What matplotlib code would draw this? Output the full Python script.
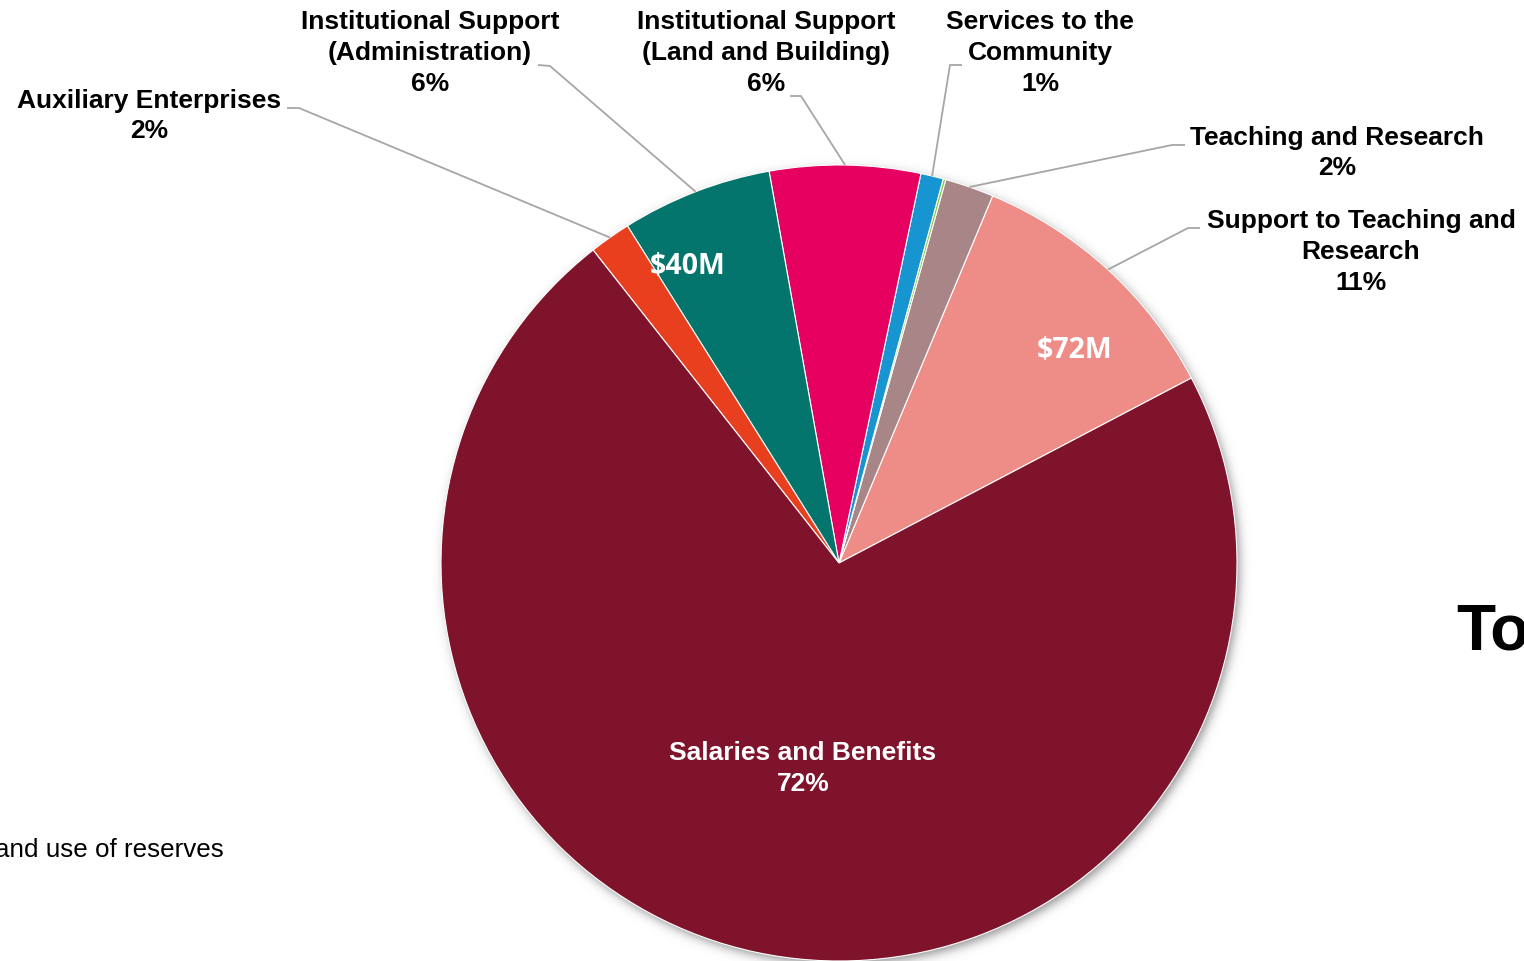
import numpy as np
import matplotlib
matplotlib.use("Agg")
import matplotlib.pyplot as plt

# Expense categories, counter-clockwise from the Salaries / Support boundary
categories = [
    "Support to Teaching and\nResearch",
    "Teaching and Research",
    "Other",
    "Services to the\nCommunity",
    "Institutional Support\n(Land and Building)",
    "Institutional Support\n(Administration)",
    "Auxiliary Enterprises",
    "Salaries and Benefits",
]
# Amounts in millions of dollars
amounts_musd = [72, 13, 0.7, 6, 40, 40, 11, 472]
# Categories that also carry a dollar amount inside their wedge
dollar_labelled = [
    "Institutional Support\n(Administration)",
    "Support to Teaching and\nResearch",
]
unlabelled = ["Other"]

colors = ["#EE8C87", "#A88586", "#8DC63F", "#1795D1",
          "#E6005F", "#04756C", "#E8401F", "#7F132B"]

W, H = 1524, 961
fig = plt.figure(figsize=(W / 100, H / 100), dpi=100)
ax = fig.add_axes([0, 0, 1, 1])
ax.set_xlim(0, W)
ax.set_ylim(0, H)
ax.set_aspect("equal")
ax.axis("off")


def py(y):
    """Convert a top-down pixel row to the axes' y coordinate."""
    return H - y


cx, cy, R = 839, py(563), 398

# Soft drop shadow under the pie
sx0, sx1, sy0, sy1 = cx - R - 30, cx + R + 30, cy - R - 30, cy + R + 30
gx, gy = np.meshgrid(np.linspace(sx0, sx1, 900), np.linspace(sy0, sy1, 900))
d = np.hypot(gx - (cx + 3), gy - (cy - 4))
alpha = 0.42 / (1 + np.exp((d - R) / 3.0))
shadow = np.zeros(gx.shape + (4,))
shadow[..., 3] = alpha
ax.imshow(shadow, extent=(sx0, sx1, sy0, sy1), origin="lower",
          interpolation="bilinear", zorder=0)

wedges, _ = ax.pie(
    amounts_musd, colors=colors, startangle=27.7, counterclock=True,
    center=(cx, cy), radius=R, frame=True,
    wedgeprops=dict(edgecolor="white", linewidth=0.8),
)
for w in wedges:
    w.set_zorder(2)
ax.set_xlim(0, W)
ax.set_ylim(0, H)
ax.axis("off")

total = sum(amounts_musd)
label_font = dict(family=["Liberation Sans", "DejaVu Sans"], weight="bold",
                  fontsize=19)

# Outside label placement: text centre, elbow start, elbow end (pixels)
outside = {
    "Auxiliary Enterprises": ((149, 116), (287, 108), (299, 108)),
    "Institutional Support\n(Administration)": ((430, 53), (538, 65), (550, 66)),
    "Institutional Support\n(Land and Building)": ((766, 53), (790, 96), (801, 96)),
    "Services to the\nCommunity": ((1040, 53), (962, 65), (950, 65)),
    "Teaching and Research": ((1337, 153), (1185, 145), (1172, 145)),
    "Support to Teaching and\nResearch": ((1361, 252), (1200, 228), (1188, 228)),
}
dollar_pos = {
    "Institutional Support\n(Administration)": (688, 266),
    "Support to Teaching and\nResearch": (1075, 350),
}

for name, amt, w in zip(categories, amounts_musd, wedges):
    pct = 100 * amt / total
    text = f"{name}\n{pct:.0f}%"
    if name in unlabelled:
        continue
    if name in outside:
        (tx, ty), (ex0, ey0), (ex1, ey1) = outside[name]
        ax.text(tx, py(ty), text, ha="center", va="center", color="black",
                linespacing=1.36, zorder=5, **label_font)
        mid = np.deg2rad((w.theta1 + w.theta2) / 2)
        px, pyy = cx + R * np.cos(mid), cy + R * np.sin(mid)
        ax.plot([ex0, ex1, px], [py(ey0), py(ey1), pyy], color="#A6A6A6",
                lw=1.3, zorder=4, solid_capstyle="butt")
    else:
        ax.text(803, py(768.5), text, ha="center", va="center", color="white",
                linespacing=1.36, zorder=5, **label_font)
    if name in dollar_labelled:
        dx, dy = dollar_pos[name]
        ax.text(dx, py(dy), f"${amt:.0f}M", ha="center", va="center",
                color="white", fontsize=20.5, weight="bold",
                family=["Open Sans", "DejaVu Sans"], zorder=5)

# Surrounding slide text
ax.text(1456, py(649), "To", ha="left", va="baseline", fontsize=46,
        weight="bold", family=["Liberation Sans", "DejaVu Sans"], color="black")
ax.text(224, py(857), "and use of reserves", ha="right", va="baseline",
        fontsize=18.7, family=["Liberation Sans", "DejaVu Sans"], color="black")

fig.savefig("out.png", dpi=100, facecolor="white")
